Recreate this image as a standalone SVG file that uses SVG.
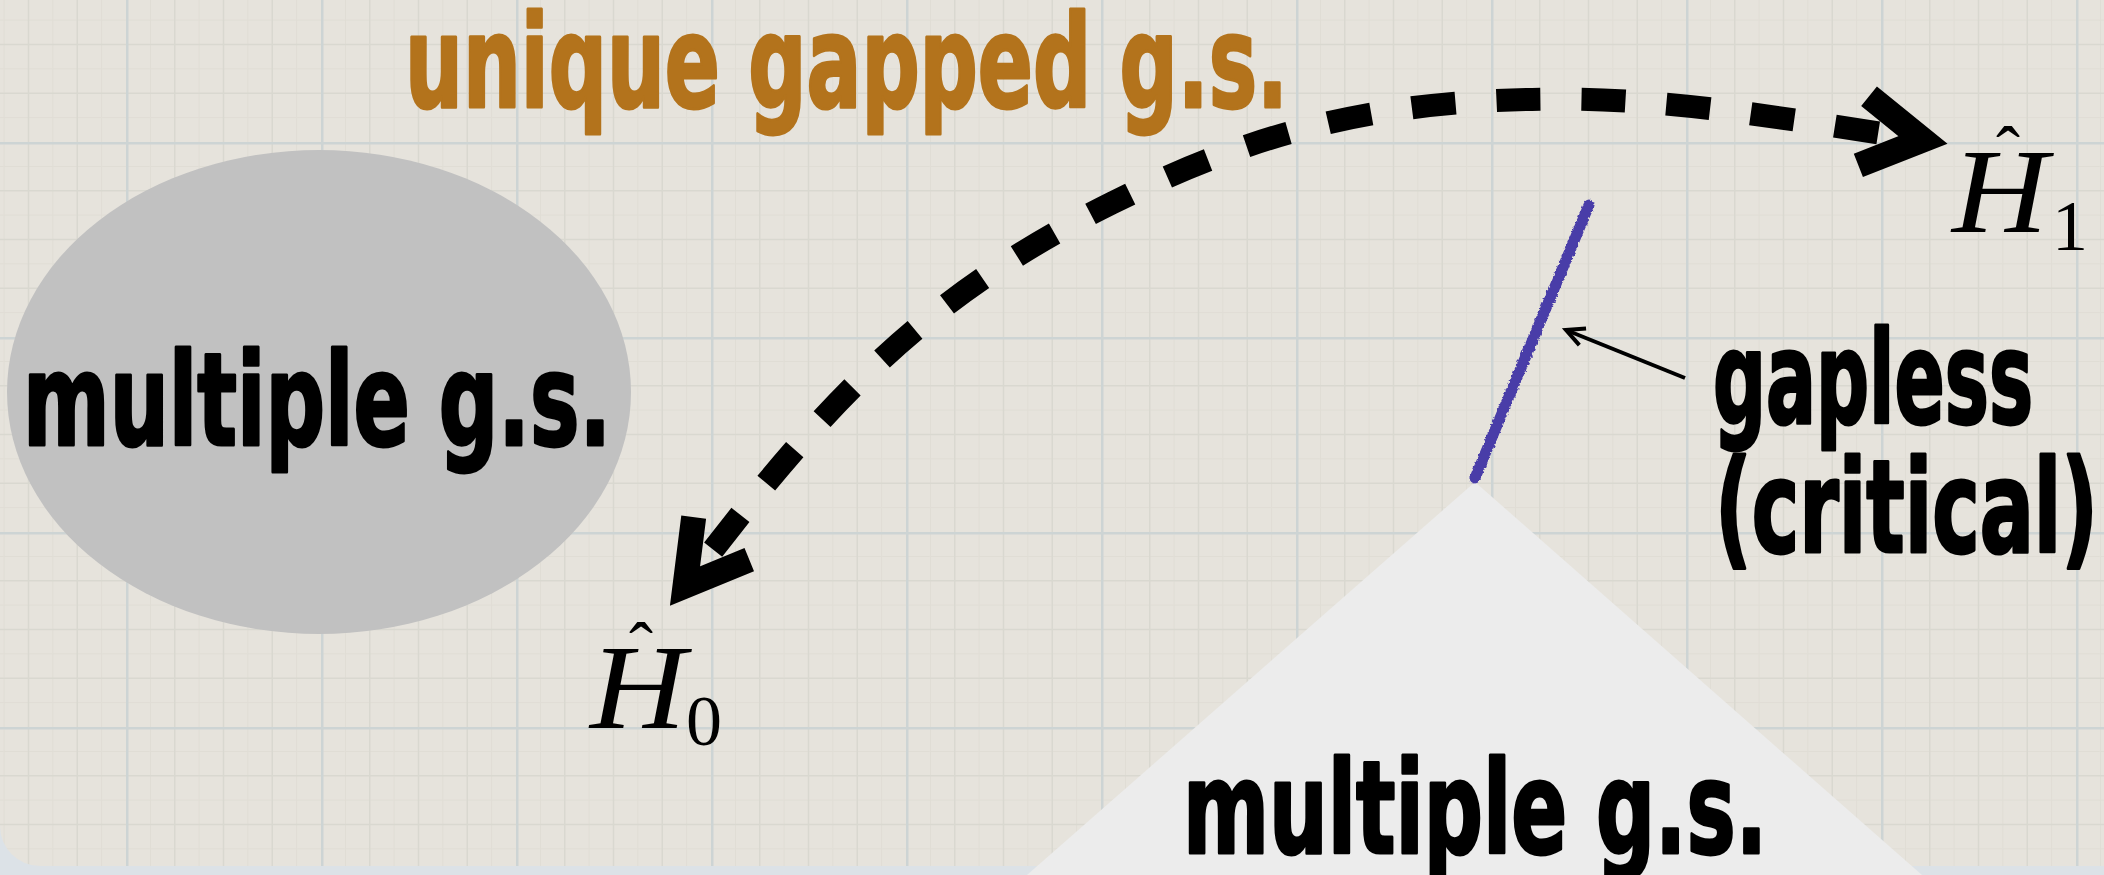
<svg xmlns="http://www.w3.org/2000/svg" width="2104" height="875" viewBox="0 0 2104 875">
<style>
.hand{font-family:'Liberation Sans Narrow','DejaVu Sans Condensed','Liberation Sans',sans-serif;font-weight:bold;font-size:128px;stroke-width:3;stroke-linejoin:round}
.blk{fill:#000;stroke:#000}
.org{fill:#b3731c;stroke:#b3731c}
.math{font-family:'Liberation Serif','DejaVu Serif',serif;fill:#000}
.it{font-style:italic;font-size:120px}
.sub{font-size:72px}
.hat{font-size:72px}
</style>
<defs>
<pattern id="grid" x="126" y="142" width="195" height="195" patternUnits="userSpaceOnUse">
<path d="M24.4 0V195M73.1 0V195M121.9 0V195M170.6 0V195M0 24.4H195M0 73.1H195M0 121.9H195M0 170.6H195" stroke="#e0ddd5" stroke-width="1"/>
<path d="M48.75 0V195M97.5 0V195M146.25 0V195M0 48.75H195M0 97.5H195M0 146.25H195" stroke="#d9d8d0" stroke-width="1.5"/>
<path d="M1.25 0V195M0 1.25H195" stroke="#cdd4d4" stroke-width="2.5"/>
</pattern>
<marker id="chev" viewBox="-100 -60 130 120" markerWidth="130" markerHeight="120" refX="0" refY="0" orient="auto-start-reverse" markerUnits="userSpaceOnUse">
<path d="M-60 -35 L0 0 L-60 35" fill="none" stroke="#000" stroke-width="25" stroke-linejoin="miter"/>
</marker>
<marker id="small" viewBox="-25 -15 35 30" markerWidth="35" markerHeight="30" refX="0" refY="0" orient="auto" markerUnits="userSpaceOnUse">
<path d="M-18 -9 L0 0 L-18 9" fill="none" stroke="#000" stroke-width="4" stroke-linejoin="miter"/>
</marker>
<filter id="rough" x="-20%" y="-5%" width="140%" height="110%">
<feTurbulence type="fractalNoise" baseFrequency="0.35" numOctaves="2" seed="3"/>
<feDisplacementMap in="SourceGraphic" scale="4" xChannelSelector="R" yChannelSelector="G"/>
</filter>
</defs>

<g id="background">
<rect x="0" y="0" width="2104" height="875" fill="#dce2e7"/>
<path d="M0 0 H2104 V866 H40 A40 40 0 0 1 0 826 Z" fill="#e6e3dc"/>
<path d="M0 0 H2104 V866 H40 A40 40 0 0 1 0 826 Z" fill="url(#grid)"/>
</g>

<g id="region-multiple-left">
<ellipse cx="319" cy="392" rx="312" ry="242" fill="#c1c1c1"/>
<text class="hand blk" x="23" y="445" textLength="588" lengthAdjust="spacingAndGlyphs">multiple g.s.</text>
</g>

<g id="region-multiple-bottom">
<polygon points="1475,482 1922,875 1027,875" fill="#ececec"/>
<text class="hand blk" x="1183" y="853" textLength="584" lengthAdjust="spacingAndGlyphs">multiple g.s.</text>
</g>

<g id="label-unique">
<text class="hand org" x="405" y="107" textLength="883" lengthAdjust="spacingAndGlyphs">unique gapped g.s.</text>
</g>

<g id="critical-line">
<line x1="1589" y1="205" x2="1475" y2="478" stroke="#4a3ea8" stroke-width="11" stroke-linecap="round" filter="url(#rough)"/>
</g>

<g id="label-gapless">
<text class="hand blk" x="1713" y="423" textLength="320" lengthAdjust="spacingAndGlyphs">gapless</text>
<text class="hand blk" x="1715" y="552" textLength="383" lengthAdjust="spacingAndGlyphs">(critical)</text>
</g>

<g id="node-H0">
<text class="math it" x="590" y="728" textLength="96" lengthAdjust="spacingAndGlyphs">H</text>
<text class="math hat" x="641" y="672" text-anchor="middle">ˆ</text>
<text class="math sub" x="686" y="745">0</text>
</g>

<g id="node-H1">
<text class="math it" x="1952" y="232" textLength="96" lengthAdjust="spacingAndGlyphs">H</text>
<text class="math hat" x="2008" y="176" text-anchor="middle">ˆ</text>
<text class="math sub" x="2052" y="250">1</text>
</g>

<g id="connectors">
<path d="M685 586 C819 411 915 301 1112 203 C1264 127 1390 99 1560 99 C1680 99 1800 121 1923 140" fill="none" stroke="#000" stroke-width="23" stroke-dasharray="44 41" stroke-dashoffset="39" marker-start="url(#chev)" marker-end="url(#chev)"/>
<line x1="1685" y1="378" x2="1566" y2="330" stroke="#000" stroke-width="4" marker-end="url(#small)"/>
</g>
</svg>
